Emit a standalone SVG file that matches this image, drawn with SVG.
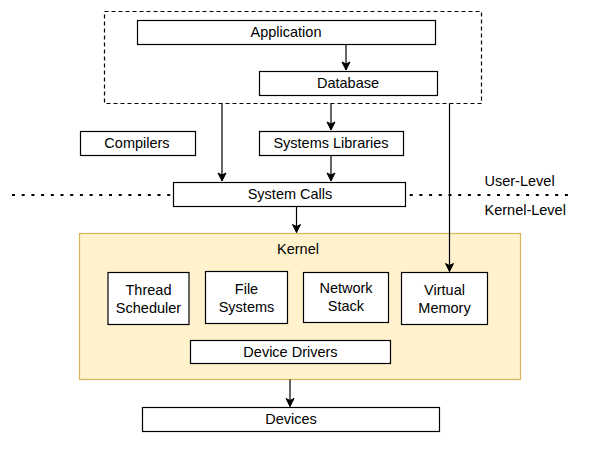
<svg xmlns="http://www.w3.org/2000/svg" width="595" height="452" viewBox="0 0 595 452">
<defs>
<marker id="arr" markerWidth="10" markerHeight="10" refX="9" refY="5" orient="auto" markerUnits="userSpaceOnUse">
<path d="M1,1 L9,5 L1,9 L3,5 Z" fill="#000" stroke="#000" stroke-width="1"/>
</marker>
<style>
.box{fill:#fff;stroke:#000;stroke-width:1.2}
.t{font-family:"Liberation Sans",Arial,sans-serif;font-size:14.5px;fill:#000;text-anchor:middle}
.ts{font-family:"Liberation Sans",Arial,sans-serif;font-size:14.5px;fill:#000}
.c{fill:none;stroke:#000;stroke-width:1.2}
</style>
</defs>
<rect width="595" height="452" fill="#fff"/>
<line x1="12" y1="195" x2="572" y2="195" stroke="#000" stroke-width="2" stroke-dasharray="3 6.7"/>
<g id="userspace">
<rect x="104.5" y="11.5" width="377" height="92" fill="none" stroke="#000" stroke-width="1.2" stroke-dasharray="4 3"/>
</g>
<g id="kernel">
<rect x="79.5" y="233.5" width="441" height="146" fill="#fff2cc" stroke="#d6b656" stroke-width="1.2"/>
<text class="t" x="298" y="254">Kernel</text>
</g>
<g id="application"><rect class="box" x="137.5" y="20.5" width="298" height="24"/><text class="t" x="286" y="37">Application</text></g>
<g id="database"><rect class="box" x="259.5" y="71.5" width="178" height="24"/><text class="t" x="348" y="88">Database</text></g>
<g id="compilers"><rect class="box" x="80.5" y="131.5" width="115" height="24"/><text class="t" x="137" y="148">Compilers</text></g>
<g id="syslibs"><rect class="box" x="259.5" y="131.5" width="144" height="24"/><text class="t" x="331" y="148">Systems Libraries</text></g>
<g id="syscalls"><rect class="box" x="173.5" y="182.5" width="232" height="24"/><text class="t" x="290" y="199">System Calls</text></g>
<g id="userlevel"><text class="ts" x="484.5" y="185.5">User-Level</text></g>
<g id="kernellevel"><text class="ts" x="484.5" y="215">Kernel-Level</text></g>
<g id="thread"><rect class="box" x="108" y="272.5" width="81" height="52"/><text class="t" x="148.5" y="295">Thread</text><text class="t" x="148.5" y="312.5">Scheduler</text></g>
<g id="filesys"><rect class="box" x="205.5" y="271.5" width="82" height="52"/><text class="t" x="246.5" y="294">File</text><text class="t" x="246.5" y="311.5">Systems</text></g>
<g id="netstack"><rect class="box" x="303.5" y="272.5" width="85" height="50"/><text class="t" x="346" y="292.5">Network</text><text class="t" x="346" y="310.5">Stack</text></g>
<g id="vmem"><rect class="box" x="401.5" y="272.5" width="86" height="52"/><text class="t" x="444.5" y="295">Virtual</text><text class="t" x="444.5" y="313">Memory</text></g>
<g id="drivers"><rect class="box" x="190.5" y="340.5" width="200" height="23"/><text class="t" x="290.5" y="357">Device Drivers</text></g>
<g id="devices"><rect class="box" x="142.5" y="407.5" width="297" height="24"/><text class="t" x="291" y="424">Devices</text></g>
<g id="connectors">
<line class="c" x1="346" y1="44.5" x2="346" y2="70" marker-end="url(#arr)"/>
<line class="c" x1="222" y1="103.5" x2="222" y2="181" marker-end="url(#arr)"/>
<line class="c" x1="331" y1="103.5" x2="331" y2="130" marker-end="url(#arr)"/>
<line class="c" x1="331" y1="155.5" x2="331" y2="181" marker-end="url(#arr)"/>
<line class="c" x1="449.5" y1="103.5" x2="449.5" y2="271.5" marker-end="url(#arr)"/>
<line class="c" x1="296.5" y1="206.5" x2="296.5" y2="232.5" marker-end="url(#arr)"/>
<line class="c" x1="290" y1="379.5" x2="290" y2="406.5" marker-end="url(#arr)"/>
</g>
</svg>
